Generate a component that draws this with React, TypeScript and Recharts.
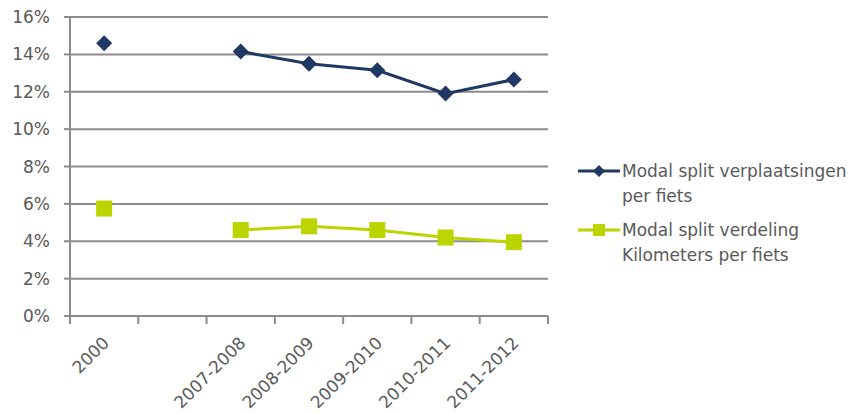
import React from "react"
import { LineChart, Line, XAxis, YAxis, CartesianGrid } from "recharts"

const periods = ["2000", "", "2007-2008", "2008-2009", "2009-2010", "2010-2011", "2011-2012"]
const tripsShare = [14.6, null, 14.15, 13.5, 13.15, 11.9, 12.65]
const distanceShare = [5.75, null, 4.6, 4.8, 4.6, 4.2, 3.95]
const yTicks = [0, 2, 4, 6, 8, 10, 12, 14, 16]

const tripsName = "Modal split verplaatsingen per fiets"
const distanceName = "Modal split verdeling Kilometers per fiets"

const data = periods.map((period, i) => ({
  period,
  trips: tripsShare[i],
  distance: distanceShare[i],
}))

const NAVY = "#1f3864"
const LIME = "#bcd400"
const GRID = "#8c8c8c"
const TEXT = "#595959"
const FONT = "'DejaVu Sans', Verdana, sans-serif"

function Diamond({ cx, cy, r = 8, fill }: any) {
  if (cx == null || cy == null) return null
  return <path d={`M${cx},${cy - r}L${cx + r},${cy}L${cx},${cy + r}L${cx - r},${cy}Z`} fill={fill} />
}

function Square({ cx, cy, s = 8, fill }: any) {
  if (cx == null || cy == null) return null
  return <rect x={cx - s} y={cy - s} width={s * 2} height={s * 2} fill={fill} />
}

// category labels sit at band centres, tick marks on the band edges
function PeriodTick(props: any) {
  const { x, y, payload, index, visibleTicksCount } = props
  const half = payload.offset ?? 34
  const last = index === visibleTicksCount - 1
  return (
    <g>
      <line x1={x - half} y1={y - 8} x2={x - half} y2={y} stroke={GRID} strokeWidth={2} />
      {last && <line x1={x + half} y1={y - 8} x2={x + half} y2={y} stroke={GRID} strokeWidth={2} />}
      <text
        x={x + 6}
        y={y + 20}
        transform={`rotate(-45, ${x + 6}, ${y + 20})`}
        textAnchor="end"
        fill={TEXT}
        fontSize={17}
        fontFamily={FONT}
      >
        {payload.value}
      </text>
    </g>
  )
}

function SeriesLegend() {
  const rows = [
    { lines: ["Modal split verplaatsingen", "per fiets"], color: NAVY, marker: "diamond", top: 171 },
    { lines: ["Modal split verdeling", "Kilometers per fiets"], color: LIME, marker: "square", top: 230 },
  ]
  return (
    <svg width={855} height={414} style={{ position: "absolute", left: 0, top: 0, pointerEvents: "none" }}>
      {rows.map((row) => (
        <g key={row.top}>
          <line x1={578} y1={row.top} x2={620} y2={row.top} stroke={row.color} strokeWidth={3} />
          {row.marker === "diamond" ? (
            <Diamond cx={599} cy={row.top} r={6} fill={row.color} />
          ) : (
            <Square cx={599} cy={row.top} s={6} fill={row.color} />
          )}
          {row.lines.map((t, i) => (
            <text key={t} x={622} y={row.top + 6 + i * 25} fill={TEXT} fontSize={17} fontFamily={FONT}>
              {t}
            </text>
          ))}
        </g>
      ))}
    </svg>
  )
}

export default function App() {
  return (
    <div style={{ position: "fixed", left: 0, top: 0, width: 855, height: 414, background: "#fff" }}>
      <LineChart width={855} height={414} data={data} margin={{ top: 17, right: 307, left: 0, bottom: 0 }}>
        <CartesianGrid vertical={false} stroke={GRID} strokeWidth={2} />
        <XAxis
          dataKey="period"
          scale="band"
          interval={0}
          height={98}
          axisLine={{ stroke: GRID, strokeWidth: 2 }}
          tickLine={false}
          tick={<PeriodTick />}
        />
        <YAxis
          domain={[0, 16]}
          ticks={yTicks}
          width={70}
          tickSize={6}
          tickMargin={14}
          tickFormatter={(v) => `${v}%`}
          axisLine={{ stroke: GRID, strokeWidth: 2 }}
          tickLine={{ stroke: GRID, strokeWidth: 2 }}
          tick={{ fill: TEXT, fontSize: 17, fontFamily: FONT }}
        />
        <Line
          type="linear"
          dataKey="trips"
          name={tripsName}
          stroke={NAVY}
          strokeWidth={3}
          dot={(p: any) => <Diamond key={p.index} cx={p.cx} cy={p.cy} r={8} fill={NAVY} />}
          isAnimationActive={false}
        />
        <Line
          type="linear"
          dataKey="distance"
          name={distanceName}
          stroke={LIME}
          strokeWidth={3}
          dot={(p: any) => <Square key={p.index} cx={p.cx} cy={p.cy} s={8} fill={LIME} />}
          isAnimationActive={false}
        />
      </LineChart>
      <SeriesLegend />
    </div>
  )
}
